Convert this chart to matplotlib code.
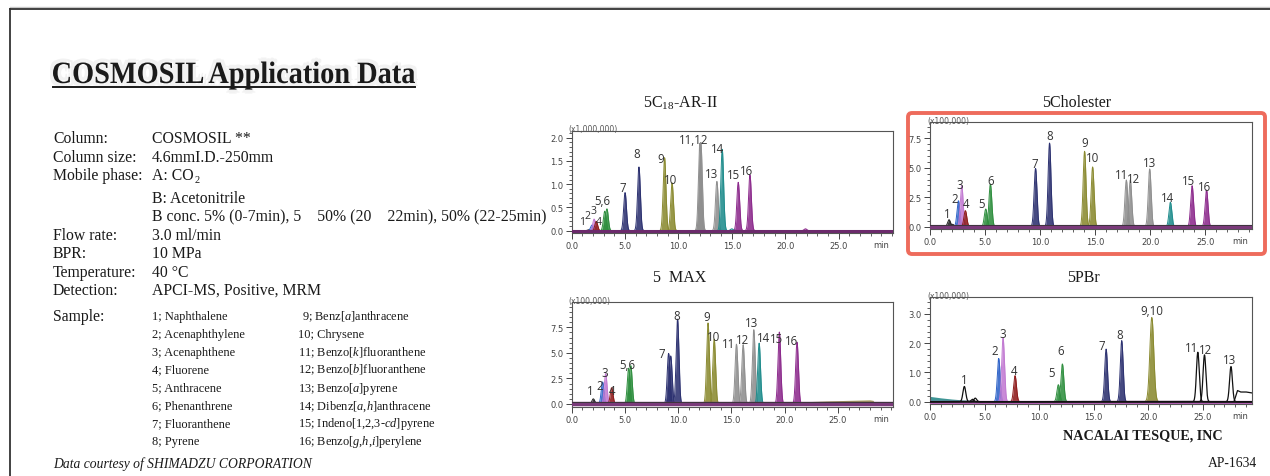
import numpy as np
import matplotlib
matplotlib.use('Agg')
import matplotlib.pyplot as plt
from matplotlib.patches import FancyBboxPatch, PathPatch
from matplotlib.textpath import TextPath
from matplotlib.font_manager import FontProperties
from matplotlib.transforms import Affine2D
from matplotlib.ticker import FixedLocator, FormatStrFormatter

plt.rcParams['mathtext.fontset'] = 'custom'
plt.rcParams['mathtext.rm'] = 'Liberation Serif'
plt.rcParams['mathtext.it'] = 'Liberation Serif:italic'
plt.rcParams['mathtext.bf'] = 'Liberation Serif:bold'

# ---- peak tables: compound no., retention time (min), peak height ----
# 5C18-AR-II  (x1,000,000)
ar_cmp = [1, 2, 3, 4, 5, 6, 7, 8, 9, 10, 11, 12, 13, 14, 15, 16, 14, 16]
ar_rt = [1.6, 1.9, 2.1, 2.3, 3.1, 3.3, 5.0, 6.3, 8.7, 9.4, 12.0, 12.1, 13.6, 14.1, 15.6, 16.7, 15.0, 21.9]
ar_h = [0.02, 0.12, 0.25, 0.2, 0.42, 0.47, 0.82, 1.37, 1.57, 1.03, 1.88, 1.9, 1.06, 1.75, 1.04, 1.2, 0.04, 0.04]
ar_lab = ['1', '2', '3', '4', '5,6', '7', '8', '9', '10', '11,12', '13', '14', '15', '16']
ar_lx = [0.95, 1.5, 2.0, 2.5, 2.85, 4.78, 6.09, 8.37, 9.22, 11.4, 13.06, 13.68, 15.2, 16.4]
ar_ly = [0.2, 0.32, 0.44, 0.2, 0.65, 0.92, 1.65, 1.56, 1.11, 1.97, 1.24, 1.76, 1.2, 1.29]

# 5Cholester  (x100,000)
ch_cmp = [1, 0, 2, 3, 4, 5, 6, 7, 8, 9, 10, 11, 12, 13, 14, 15, 16]
ch_rt = [1.73, 2.05, 2.58, 2.88, 3.21, 5.06, 5.48, 9.58, 10.85, 14.03, 14.76, 17.82, 18.18, 19.94, 21.82, 23.79, 25.1]
ch_h = [0.59, 0.2, 2.2, 3.48, 1.36, 1.5, 3.62, 4.95, 7.1, 6.4, 5.07, 3.96, 3.96, 4.9, 2.07, 3.48, 3.11]
ch_lab = ['1', '2', '3', '4', '5', '6', '7', '8', '9', '10', '11', '12', '13', '14', '15', '16']
ch_lx = [1.58, 2.27, 2.73, 3.27, 4.7, 5.48, 9.55, 10.85, 14.0, 14.76, 17.36, 18.48, 19.94, 21.58, 23.48, 24.94]
ch_ly = [1.08, 2.35, 3.57, 1.98, 2.0, 3.96, 5.32, 7.78, 7.16, 5.86, 4.39, 4.1, 5.46, 2.46, 3.9, 3.42]

# 5 MAX  (x100,000)
mx_cmp = [1, 2, 3, 4, 5, 6, 7, 7, 8, 9, 10, 11, 12, 13, 14, 15, 16]
mx_rt = [2.03, 2.9, 3.19, 3.75, 5.35, 5.55, 9.1, 9.3, 9.94, 12.8, 13.38, 15.47, 16.1, 17.1, 17.6, 19.5, 21.16]
mx_h = [0.5, 2.15, 2.97, 1.59, 3.5, 3.75, 4.95, 4.7, 8.3, 7.93, 6.34, 5.85, 5.8, 7.27, 5.95, 7.04, 6.05]
mx_lab = ['1', '2', '3', '4', '5,6', '7', '8', '9', '10', '11', '12', '13', '14', '15', '16']
mx_lx = [1.78, 2.66, 3.13, 3.75, 5.25, 8.5, 9.9, 12.66, 13.28, 14.75, 16.0, 16.88, 18.06, 19.28, 20.66]
mx_ly = [1.32, 1.82, 3.07, 1.32, 3.9, 4.89, 8.69, 8.59, 6.6, 5.95, 6.28, 7.93, 6.54, 6.44, 6.21]
mx_drift_t = [18.5, 20.0, 22.0, 24.0, 26.0, 28.0, 28.3, 28.5]
mx_drift_v = [0.05, 0.15, 0.22, 0.3, 0.35, 0.4, 0.35, 0.0]

# 5PBr  (x100,000)
pb_cmp = [1, 0, 0, 2, 3, 4, 5, 6, 7, 8, 9, 11, 12, 13]
pb_rt = [3.15, 3.9, 4.15, 6.3, 6.7, 7.8, 11.77, 12.14, 16.15, 17.58, 20.34, 24.56, 25.17, 27.6]
pb_h = [0.52, 0.08, 0.12, 1.48, 2.18, 0.89, 0.58, 1.29, 1.8, 2.09, 2.88, 1.69, 1.6, 1.2]
pb_lab = ['1', '2', '3', '4', '5', '6', '7', '8', '9,10', '11', '12', '13']
pb_lx = [3.15, 5.96, 6.67, 7.71, 11.16, 11.96, 15.75, 17.37, 20.34, 24.0, 25.23, 27.43]
pb_ly = [0.75, 1.74, 2.34, 1.06, 1.0, 1.74, 1.92, 2.29, 3.11, 1.84, 1.8, 1.43]
pb_tail_t = [27.9, 28.2, 28.5, 29.0, 29.5]
pb_tail_v = [0.03, 0.38, 0.33, 0.33, 0.3]
pb_teal_t = [0.0, 1.0, 2.0, 3.0, 4.0, 5.0]
pb_teal_v = [0.18, 0.13, 0.09, 0.06, 0.04, 0.02]

cmp_color = {0: '#222222', 1: '#222222', 2: '#2d62c8', 3: '#c27ad2', 4: '#8e1b1b',
             5: '#2f8f3f', 6: '#2f8f3f', 7: '#2c3170', 8: '#2c3170',
             9: '#8a8a30', 10: '#8a8a30', 11: '#8f8f8f', 12: '#8f8f8f', 13: '#8f8f8f',
             14: '#1f8c8c', 15: '#8c2a8c', 16: '#8c2a8c'}

left_labels = ['Column:', 'Column size:', 'Mobile phase:', '', '', 'Flow rate:', 'BPR:',
               'Temperature:', 'Detection:']
left_values = ['COSMOSIL **', '4.6mmI.D.-250mm', 'A: CO', 'B: Acetonitrile',
               'B conc. 5% (0-7min), 5    50% (20    22min), 50% (22-25min)',
               '3.0 ml/min', '10 MPa', '40 \u00b0C', 'APCI-MS, Positive, MRM']
samples_1 = ['1; Naphthalene', '2; Acenaphthylene', '3; Acenaphthene', '4; Fluorene',
             '5; Anthracene', '6; Phenanthrene', '7; Fluoranthene', '8; Pyrene']
samples_2 = ['9; Benz[$\\mathit{a}$]anthracene', '10; Chrysene',
             '11; Benzo[$\\mathit{k}$]fluoranthene', '12; Benzo[$\\mathit{b}$]fluoranthene',
             '13; Benzo[$\\mathit{a}$]pyrene', '14; Dibenz[$\\mathit{a}$,$\\mathit{h}$]anthracene',
             '15; Indeno[$\\mathit{1}$,$\\mathit{2}$,$\\mathit{3}$-$\\mathit{cd}$]pyrene',
             '16; Benzo[$\\mathit{g}$,$\\mathit{h}$,$\\mathit{i}$]perylene']

W, H = 1270, 477
fig = plt.figure(figsize=(W / 100, H / 100), dpi=100)
fig.patch.set_facecolor('white')
renderer = fig.canvas.get_renderer()

bg = fig.add_axes([0, 0, 1, 1])
bg.set_xlim(0, W)
bg.set_ylim(H, 0)
bg.axis('off')

# outer frame
bg.plot([10, W], [7.5, 7.5], color='#c8c8c8', lw=1.0)
bg.plot([10, W], [9.5, 9.5], color='#333333', lw=1.3)
bg.plot([10, 10], [9.5, H], color='#333333', lw=1.3)

serif = 'Liberation Serif'

# big title, squeezed to the width of the original, with a soft grey shadow
tp = TextPath((0, 0), 'COSMOSIL Application Data', size=31,
              prop=FontProperties(family=serif, weight='bold'))
ext = tp.get_extents()
sx = 362 / ext.width
for dx, dy in [(-3, -3), (3, -3), (-3, 3), (3, 3), (0, 4), (0, -4)]:
    trs = Affine2D().translate(-ext.x0, 0).scale(sx, -1.0).translate(53 + dx, 84 + dy) + bg.transData
    bg.add_patch(PathPatch(tp, transform=trs, facecolor='#f2f2f2', edgecolor='none', zorder=1))
tr = Affine2D().translate(-ext.x0, 0).scale(sx, -1.0).translate(53, 84) + bg.transData
bg.add_patch(PathPatch(tp, transform=tr, facecolor='#1a1a1a', edgecolor='none', zorder=2))
bg.plot([53, 415], [88, 88], color='#1a1a1a', lw=1.4, zorder=3)

fs_main = 11.3
rows_y = [143, 162, 180, 203, 221, 240, 258, 277, 295]
for lab, val, y in zip(left_labels, left_values, rows_y):
    bg.text(53, y, lab, family=serif, fontsize=fs_main, color='#1a1a1a', va='baseline')
    tv = bg.text(152, y, val, family=serif, fontsize=fs_main, color='#1a1a1a', va='baseline')
    if val == 'A: CO':
        bb = tv.get_window_extent(renderer)
        bg.text(bb.x1 + 0.5, y + 3.5, '2', family=serif, fontsize=7.5, color='#1a1a1a', va='baseline')
bg.text(53, 321, 'Sample:', family=serif, fontsize=fs_main, color='#1a1a1a', va='baseline')
for i, (s1, s2) in enumerate(zip(samples_1, samples_2)):
    y = 320 + i * 17.9
    bg.text(152, y, s1, family=serif, fontsize=8.9, color='#1a1a1a', va='baseline')
    bg.text(302 if i == 0 else 298, y, s2, family=serif, fontsize=8.9, color='#1a1a1a', va='baseline')
bg.text(53, 468, 'Data courtesy of SHIMADZU CORPORATION', family=serif, style='italic',
        fontsize=9.8, color='#1a1a1a', va='baseline')
bg.text(1063, 440, 'NACALAI TESQUE, INC', family=serif, weight='bold', fontsize=10.2,
        color='#1a1a1a', va='baseline')
bg.text(1257, 467, 'AP-1634', family=serif, fontsize=9.8, color='#1a1a1a', va='baseline', ha='right')

# chart titles
for tx, ty, s in [(681, 103, '5C$_{18}$-AR-II'), (1077, 103, '5Cholester'),
                  (680, 278, '5  MAX'), (1083, 278, '5PBr')]:
    bg.text(tx, ty, s, family=serif, fontsize=11.5, color='#1a1a1a', ha='center', va='center')

# highlight box
bg.add_patch(FancyBboxPatch((908, 114), 357, 141, boxstyle='round,pad=0,rounding_size=4',
                            fill=False, edgecolor='#ee6b5c', lw=2.8))

t = np.linspace(0, 30.5, 4000)


def chart(box, xmax, ylim, yticks, yminor, scale_txt):
    x0, y0, x1, y1 = box
    ax = fig.add_axes([x0 / W, 1 - y1 / H, (x1 - x0) / W, (y1 - y0) / H])
    ax.set_xlim(0, xmax)
    ax.set_ylim(*ylim)
    ax.xaxis.set_major_locator(FixedLocator([0, 5, 10, 15, 20, 25]))
    ax.xaxis.set_minor_locator(FixedLocator(np.arange(0, int(xmax) + 1)))
    ax.yaxis.set_major_locator(FixedLocator(yticks))
    ax.yaxis.set_minor_locator(FixedLocator(yminor))
    ax.xaxis.set_major_formatter(FormatStrFormatter('%.1f'))
    ax.yaxis.set_major_formatter(FormatStrFormatter('%.1f'))
    ax.tick_params(which='major', direction='out', length=4, width=0.7, labelsize=6,
                   colors='#444444', pad=2)
    ax.tick_params(which='minor', direction='out', length=2, width=0.6, colors='#444444')
    for sp in ax.spines.values():
        sp.set_color('#555555')
        sp.set_linewidth(0.8)
    ax.annotate(scale_txt, xy=(0, 1), xycoords='axes fraction', xytext=(-3, 2),
                textcoords='offset pixels', fontsize=5.5, color='#555555', va='center')
    ax.annotate('min', xy=(1, 0), xycoords='axes fraction', xytext=(-4, -7),
                textcoords='offset pixels', fontsize=6, color='#444444', ha='right', va='top')
    return ax


def peaks(ax, cmps, rts, hs, sig=0.13, line_only=(), wide=()):
    for c, r, h in zip(cmps, rts, hs):
        s = 0.18 if c in wide else sig
        y = h * np.exp(-0.5 * ((t - r) / s) ** 2)
        col = cmp_color[c]
        if c in line_only:
            ax.plot(t, y, color='#111111', lw=0.9, zorder=5)
        else:
            ax.fill_between(t, 0, y, color=col, alpha=0.88, lw=0, zorder=2)
            ax.plot(t, y, color=col, lw=0.7, zorder=2)


def labels(ax, labs, lx, ly, fs=8.3):
    for s, x, y in zip(labs, lx, ly):
        ax.text(x, y, s, ha='center', va='center', fontsize=fs, color='#333333',
                family='Open Sans', zorder=6)


ax_ar = chart((571.7, 131.7, 893, 234), 30.1, (-0.05, 2.15), [0, 0.5, 1.0, 1.5, 2.0],
              np.arange(0, 2.15, 0.1), '(x1,000,000)')
ax_ch = chart((930, 123.3, 1251.7, 230), 29.2, (-0.2, 8.86), [0, 2.5, 5.0, 7.5],
              np.arange(0, 8.8, 0.5), '(x100,000)')
ax_mx = chart((571.7, 303.3, 893.3, 407.7), 30.2, (-0.27, 9.95), [0, 2.5, 5.0, 7.5],
              np.arange(0, 9.9, 0.5), '(x100,000)')
ax_pb = chart((930, 298.3, 1251.7, 405), 29.5, (-0.08, 3.57), [0, 1.0, 2.0, 3.0],
              np.arange(0, 3.5, 0.2), '(x100,000)')

peaks(ax_ar, ar_cmp, ar_rt, ar_h)
labels(ax_ar, ar_lab[:4], ar_lx[:4], ar_ly[:4], fs=7.6)
labels(ax_ar, ar_lab[4:], ar_lx[4:], ar_ly[4:])
ax_ar.axhline(0, color='#6b2a6b', lw=2.2, zorder=4)

peaks(ax_ch, ch_cmp, ch_rt, ch_h)
labels(ax_ch, ch_lab, ch_lx, ch_ly)
ax_ch.axhline(0, color='#7a3a7a', lw=3.0, zorder=4)
ax_ch.axhline(0.1, color='#333333', lw=0.6, zorder=4)

ax_mx.fill_between(mx_drift_t, 0, mx_drift_v, color='#8e8a3a', alpha=0.85, lw=0, zorder=2)
peaks(ax_mx, mx_cmp, mx_rt, mx_h)
labels(ax_mx, mx_lab, mx_lx, mx_ly)
ax_mx.axhline(0, color='#7a3a7a', lw=3.2, zorder=4)
ax_mx.axhline(0.15, color='#333333', lw=0.6, zorder=4)

ax_pb.fill_between(pb_teal_t, 0, pb_teal_v, color='#2a8a8a', alpha=0.9, lw=0, zorder=2)
peaks(ax_pb, pb_cmp, pb_rt, pb_h, line_only=(0, 1, 11, 12, 13), wide=(9,))
ax_pb.plot(pb_tail_t, pb_tail_v, color='#111111', lw=0.9, zorder=5)
labels(ax_pb, pb_lab, pb_lx, pb_ly)
ax_pb.axhline(0, color='#b060b0', lw=2.4, zorder=4)

fig.savefig('out.png', dpi=100)
